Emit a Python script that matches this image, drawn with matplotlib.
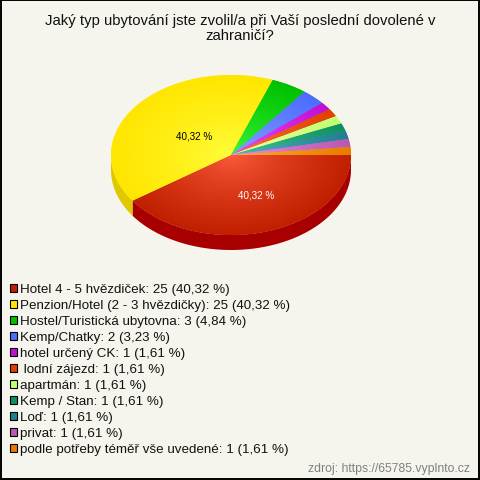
import numpy as np
import matplotlib
matplotlib.use('Agg')
import matplotlib.pyplot as plt
from matplotlib.colors import LinearSegmentedColormap, to_rgb
from matplotlib.patches import Rectangle

plt.rcParams['font.family'] = ['Liberation Sans', 'DejaVu Sans']

title = 'Jaký typ ubytování jste zvolil/a při Vaší poslední dovolené v\nzahraničí?'
source = 'zdroj: https://65785.vyplnto.cz'
names = ['Hotel 4 - 5 hvězdiček', 'Penzion/Hotel (2 - 3 hvězdičky)', 'Hostel/Turistická ubytovna',
         'Kemp/Chatky', 'hotel určený CK', ' lodní zájezd', 'apartmán', 'Kemp / Stan', 'Loď',
         'privat', 'podle potřeby téměř vše uvedené']
counts = [25, 25, 3, 2, 1, 1, 1, 1, 1, 1, 1]
percents = ['40,32', '40,32', '4,84', '3,23', '1,61', '1,61', '1,61', '1,61', '1,61', '1,61', '1,61']
colors = ['#c01f00', '#ffe600', '#00c000', '#4c6cff', '#c010d0', '#e04000',
          '#c0ff70', '#109060', '#207f90', '#b858b0', '#e87c00']
side_colors = ['#a80000', '#e0c800']

BG = '#f5f5ee'
W, H = 480, 481
CX, CY, RX, RY, DEPTH = 231, 156, 120, 80, 15

fig = plt.figure(figsize=(W / 100, H / 100), dpi=100, facecolor=BG)

# pie axes, unit circle stretched to an ellipse
ax = fig.add_axes([0, 0, 1, 1])
ax.patch.set_alpha(0)
wedges, _ = ax.pie(counts, colors=colors, startangle=0, counterclock=False, radius=1)
xlim = (-CX / RX, (W - CX) / RX)
ylim = ((CY - H) / RY, CY / RY)

# side of the pie, only the part facing the viewer
edges = np.cumsum([0] + counts) / sum(counts) * 180 * 2
for i, col in enumerate(side_colors):
    a = np.radians(np.linspace(edges[i], min(edges[i + 1], 180), 80))
    x = np.cos(a)
    y = -np.sin(a)
    d = DEPTH / RY
    ax.fill(np.r_[x, x[::-1]], np.r_[y, y[::-1] - d], color=col, lw=0, zorder=0.5)

# radial shading of each slice
xx, yy = np.meshgrid(np.linspace(-1.02, 1.02, 300), np.linspace(-1.02, 1.02, 300))
rr = np.clip(np.hypot(xx, yy), 0, 1) ** 0.7
for w, col in zip(wedges, colors):
    base = np.array(to_rgb(col))
    cmap = LinearSegmentedColormap.from_list('s', [np.clip(base + 0.25, 0, 1), base])
    im = ax.imshow(rr, cmap=cmap, vmin=0, vmax=1, extent=(-1.02, 1.02, -1.02, 1.02),
                   origin='lower', zorder=2, aspect='auto', interpolation='bilinear')
    im.set_clip_path(w)

ax.set_xlim(*xlim)
ax.set_ylim(*ylim)
ax.set_aspect('auto')
ax.axis('off')

# overlay in pixel coordinates for texts and legend
ov = fig.add_axes([0, 0, 1, 1])
ov.set_xlim(0, W)
ov.set_ylim(H, 0)
ov.axis('off')
ov.patch.set_alpha(0)

ov.add_patch(Rectangle((0.5, 0.5), W - 1.5, H - 1.5, fill=False, ec='black', lw=1.4))
ov.text(240, 28.5, title, ha='center', va='center', fontsize=10.7, color='#111111', linespacing=1.05)
ov.text(194, 136.5, percents[1] + ' %', ha='center', va='center', fontsize=7.1, color='black')
ov.text(256, 195.5, percents[0] + ' %', ha='center', va='center', fontsize=7.1, color='white')

for i, name in enumerate(names):
    y = 289 + i * 16
    ov.add_patch(Rectangle((9.5, y - 4), 7.5, 7.5, fc=colors[i], ec='black', lw=0.8))
    ov.text(20, y + 1, f'{name}: {counts[i]} ({percents[i]} %)', ha='left', va='center',
            fontsize=9.6, color='#111111')

ov.text(469.5, 469, source, ha='right', va='center', fontsize=8.8, color='#808080')

fig.savefig('out.png', dpi=100, facecolor=BG)
